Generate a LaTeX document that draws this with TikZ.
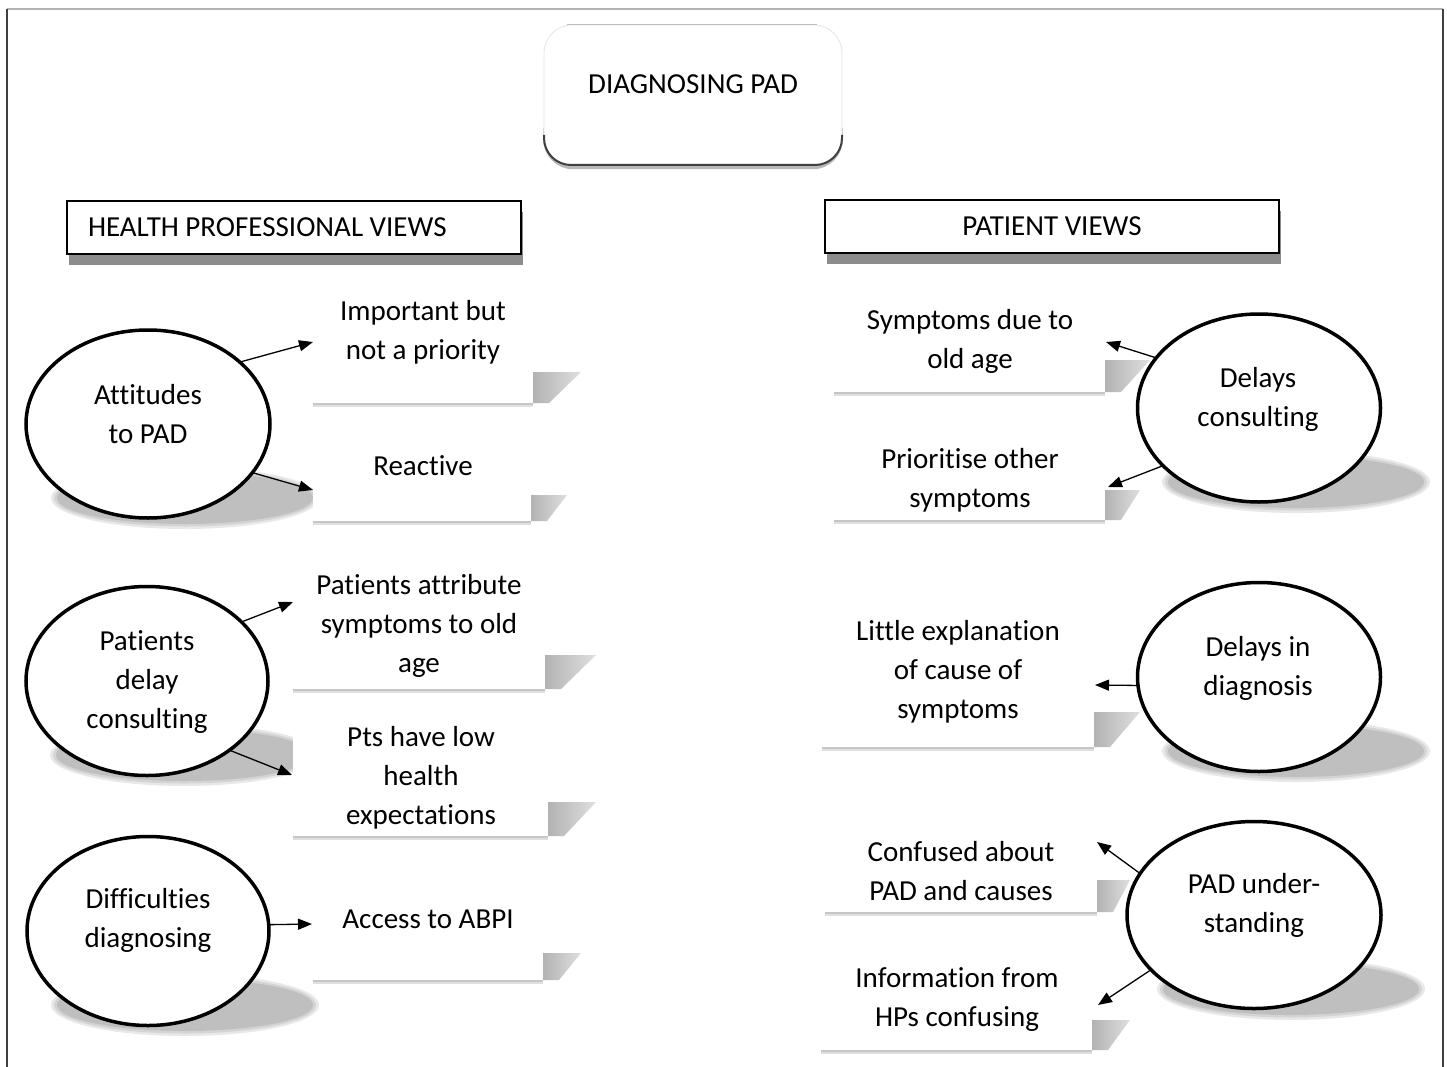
\documentclass[tikz,border=0pt]{standalone}
\usepackage{fontspec}
\setmainfont{Carlito}[Ligatures=NoCommon]
\usetikzlibrary{shapes.geometric,arrows.meta,shadows}
\newcommand\eshad[2]{%
  \fill[gray!18] ({#1+37},{#2+74}) ellipse [x radius=134, y radius=31];
  \fill[gray!34] ({#1+37},{#2+74}) ellipse [x radius=131, y radius=28.5];
  \fill[gray!50] ({#1+37},{#2+74}) ellipse [x radius=128, y radius=26];}
\newcommand\tbox[6]{%
  \fill[white] (#1,#2) rectangle (#3,#4);
  \draw[gray!25, line width=4pt] (#1,{#4+2}) -- (#3,{#4+2});
  \draw[gray!45, line width=1.8pt] (#1,{#4+1.2}) -- (#3,{#4+1.2});
  \shade[left color=gray!60, right color=gray!25] (#3,#5) -- (#6,#5) -- ({#3+16},#4) -- (#3,#4) -- cycle;}
\begin{document}
\begin{tikzpicture}[x=1pt,y=-1pt,
  every node/.style={font=\fontsize{29}{39}\selectfont, inner sep=0pt, outer sep=0pt},
  oval/.style={ellipse, draw=black, line width=3.5pt, fill=white},
  txt/.style={align=center},
  hdr/.style={draw=black, line width=2.5pt, fill=white, minimum width=454pt, minimum height=53pt,
    drop shadow={shadow xshift=2pt,shadow yshift=-11pt,fill=gray!90,opacity=1}},
  conn/.style={line width=1.3pt, -{Triangle[length=14pt,width=11pt]}}
]
\useasboundingbox (0,0) rectangle (1447,1067);
\fill[white] (0,0) rectangle (1447,1067);
% frame
\draw[gray!60, line width=2pt] (7,9) -- (1443,9);
\draw[black!75, line width=2pt] (7,9) -- (7,1067);
\draw[black!75, line width=2pt] (1443,9) -- (1443,1067);

% title box
\draw[gray!55, line width=3.5pt, rounded corners=28pt] (545,128) -- (545,167.5) -- (841,167.5) -- (841,128);
\node[draw=gray!20, line width=0.8pt, fill=white, rounded corners=28pt, minimum width=298pt, minimum height=140pt] (top) at (693,95) {};
\draw[gray!50, line width=1pt] (567,25) -- (817,25);
\draw[black!75, line width=2pt, rounded corners=27pt] (544,135) -- (544,165) -- (842,165) -- (842,135);
\node (toptxt) at (693,84) {DIAGNOSING PAD};

% headers
\node[hdr] (hp) at (294,227.5) {\makebox[412pt][l]{HEALTH PROFESSIONAL VIEWS}};
\node[hdr, align=center] (pv) at (1052,226.5) {PATIENT VIEWS};

% ellipse shadows
\eshad{148}{424}
\eshad{147}{681}
\eshad{148}{931}
\eshad{1259}{408}
\eshad{1259}{677}
\eshad{1254}{915}

% text boxes
\tbox{313}{285}{533}{403}{372}{581}
\tbox{313}{440}{531}{521}{495}{567}
\tbox{293}{560}{545}{689}{655}{596}
\tbox{293}{712}{548}{836}{802}{596}
\tbox{313}{890}{543}{980}{953}{581}
\tbox{834}{295}{1105}{392}{360}{1150}
\tbox{834}{435}{1105}{520}{490}{1140}
\tbox{822}{605}{1094}{747}{712}{1140}
\tbox{825}{826}{1097}{912}{880}{1130}
\tbox{821}{955}{1092}{1050}{1020}{1130}

% ellipses
\node[oval, minimum width=244pt, minimum height=188pt] (att) at (148,424) {};
\node[oval, minimum width=242pt, minimum height=189pt] (pdc) at (147,681) {};
\node[oval, minimum width=242pt, minimum height=189pt] (dif) at (148,931) {};
\node[oval, minimum width=243pt, minimum height=188pt] (dcn) at (1259,408) {};
\node[oval, minimum width=243pt, minimum height=189pt] (ddg) at (1259,677) {};
\node[oval, minimum width=254pt, minimum height=187pt] (pdu) at (1254,915) {};

\node[txt] (att-t) at (148,414) {Attitudes\\to PAD};
\node[txt] (pdc-t) at (147,682) {Patients\\delay\\consulting};
\node[txt] (dif-t) at (148,920) {Difficulties\\diagnosing};
\node[txt] (dcn-t) at (1258,399.5) {Delays\\consulting};
\node[txt] (ddg-t) at (1258,668) {Delays in\\diagnosis};
\node[txt] (pdu-t) at (1254,905) {PAD under-\\standing};

% box texts
\node[txt] (l1) at (423,332.5) {Important but\\not a priority};
\node[txt] (l2) at (423,466) {Reactive};
\node[txt] (l3) at (419,626) {Patients attribute\\symptoms to old\\age};
\node[txt] (l4) at (421,777.5) {Pts have low\\health\\expectations};
\node[txt] (l5) at (428,919) {Access to ABPI};
\node[txt] (r1) at (970,341.5) {Symptoms due to\\old age};
\node[txt] (r2) at (970,480.5) {Prioritise other\\symptoms};
\node[txt] (r3) at (958,671.5) {Little explanation\\of cause of\\symptoms};
\node[txt] (r4) at (961,871.5) {Confused about\\PAD and causes};
\node[txt] (r5) at (957,1000) {Information from\\HPs confusing};

% arrow ends
\coordinate (a1) at (313,342);
\coordinate (a2) at (313,490);
\coordinate (a3) at (293,602);
\coordinate (a4) at (292,775);
\coordinate (a5) at (312,924);
\coordinate (b1) at (1106,342);
\coordinate (b2) at (1108,487);
\coordinate (b3) at (1095,685);
\coordinate (b4) at (1097,842);
\coordinate (b5) at (1098,1005);

\draw[conn] (att.34) -- (a1);
\draw[conn] (att.-25) -- (a2);
\draw[conn] (pdc.32) -- (a3);
\draw[conn] (pdc.-40) -- (a4);
\draw[conn] (dif.3) -- (a5);
\draw[conn] (dcn.154) -- (b1);
\draw[conn] (dcn.211) -- (b2);
\draw[conn] (ddg.184) -- (b3);
\draw[conn] (pdu.160) -- (b4);
\draw[conn] (pdu.208) -- (b5);
\end{tikzpicture}
\end{document}
